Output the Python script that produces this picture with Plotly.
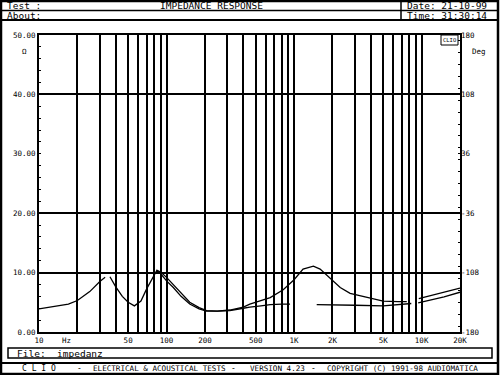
import plotly.graph_objects as go
import math

# ---------------- data ----------------
freq_a = [10, 13, 17, 20, 25, 30, 33, None, 36, 40, 45, 50, 56, 63, 70, 78, 84, 90, 100, 113,
          130, 152, 180, 206, 250, 314, 400, 450, 550, 650, 822, 1000, 1176, 1417, 1600, 1808,
          2300, 2750, 3284, 4000, 5000, 6500, 7650, None, 9500, 12000, 15000, 20000]
imp_a = [3.9, 4.3, 4.7, 5.3, 6.8, 8.5, 9.2, None, 9.3, 7.6, 6.0, 5.0, 4.4, 5.2, 7.3, 9.3, 10.4, 9.8, 8.6, 7.5,
         6.0, 4.7, 3.9, 3.5, 3.5, 3.7, 4.2, 4.7, 5.3, 5.8, 7.1, 8.8, 10.6, 11.1, 10.6, 9.5,
         7.5, 6.5, 6.1, 5.6, 5.2, 5.1, 5.1, None, 5.6, 6.2, 6.7, 7.4]

freq_b = [84, 90, 100, 113, 130, 152, 180, 206, 250, 314, 400, 450, 550, 650, 800, 930, None,
          1505, 2000, 3000, 5000, 7000, 8300, None, 9400, 12000, 15000, 20000]
imp_b = [10.4, 10.1, 9.2, 8.0, 6.5, 5.0, 4.1, 3.6, 3.5, 3.6, 4.0, 4.2, 4.4, 4.6, 4.7, 4.7, None,
         4.6, 4.6, 4.5, 4.4, 4.6, 4.8, None, 4.9, 5.4, 5.9, 6.7]

x_grid = [10, 20, 30, 40, 50, 60, 70, 80, 90, 100, 200, 300, 400, 500, 600, 700, 800, 900,
          1000, 2000, 3000, 4000, 5000, 6000, 7000, 8000, 9000, 10000, 20000]
x_labels = {10: "10", 50: "50", 100: "100", 200: "200", 500: "500", 1000: "1K",
            2000: "2K", 5000: "5K", 10000: "10K", 20000: "20K"}
y_ticks = [0, 10, 20, 30, 40, 50]
y_ticktext = ["0.00", "10.00", "20.00", "30.00", "40.00", "50.00"]
y_grid = [10, 20, 40]
deg_ticks = [-180, -108, -36, 36, 108, 180]
deg_ticktext = ["-180", "-108", "-36", "36", "108", "180"]

# ---------------- layout helpers ----------------
W, H = 500, 375
L, R, T, B = 39, 460, 35, 332
MONO = "DejaVu Sans Mono"


def px(x):
    return (x - L) / (R - L)


def py(y):
    return (B - y) / (B - T)


fig = go.Figure()
fig.add_trace(go.Scatter(x=freq_a, y=imp_a, mode="lines", line=dict(color="black", width=1.3),
                         connectgaps=False, showlegend=False))
fig.add_trace(go.Scatter(x=freq_b, y=imp_b, mode="lines", line=dict(color="black", width=1.3),
                         connectgaps=False, showlegend=False))
# invisible traces to activate extra axes
fig.add_trace(go.Scatter(x=[10], y=[0], yaxis="y2", mode="markers", marker=dict(opacity=0),
                         showlegend=False, hoverinfo="skip"))
fig.add_trace(go.Scatter(x=[10], y=[0], yaxis="y3", mode="markers", marker=dict(opacity=0),
                         showlegend=False, hoverinfo="skip"))

fig.update_layout(
    width=W, height=H,
    margin=dict(l=L, r=W - R, t=T, b=H - B),
    paper_bgcolor="white", plot_bgcolor="white",
    font=dict(family=MONO, size=7.5, color="black"),
    xaxis=dict(type="log", range=[1, math.log10(20000)],
               tickvals=x_grid, ticktext=[x_labels.get(v, "") for v in x_grid],
               showgrid=True, gridcolor="black", gridwidth=1.8,
               showline=True, linecolor="black", linewidth=2, mirror=True,
               ticks="inside", ticklen=2, tickcolor="black", zeroline=False,
               tickfont=dict(family=MONO, size=7.5)),
    yaxis=dict(range=[0, 50], tickvals=y_ticks, ticktext=y_ticktext,
               showgrid=False, zeroline=False,
               showline=True, linecolor="black", linewidth=2, mirror=True,
               ticks="inside", ticklen=2, tickcolor="black",
               minor=dict(dtick=2, ticks="inside", ticklen=2, tickcolor="black"),
               tickfont=dict(family=MONO, size=7.5)),
    yaxis2=dict(range=[-180, 180], tickvals=deg_ticks, ticktext=deg_ticktext,
                overlaying="y", side="right", showgrid=False, zeroline=False,
                ticks="inside", ticklen=2, tickcolor="black",
                minor=dict(dtick=14.4, ticks="inside", ticklen=2, tickcolor="black"),
                tickfont=dict(family=MONO, size=7.5)),
    yaxis3=dict(range=[0, 50], tickvals=y_grid, overlaying="y", showticklabels=False,
                showgrid=True, gridcolor="black", gridwidth=1.8, zeroline=False, ticks=""),
)

shapes = []


def rect(x0, y0, x1, y1, w=1.5):
    shapes.append(dict(type="rect", xref="paper", yref="paper",
                       x0=px(x0), x1=px(x1), y0=py(y0), y1=py(y1),
                       line=dict(color="black", width=w), fillcolor="rgba(0,0,0,0)", layer="above"))


def hline(x0, x1, y, w=1.5):
    shapes.append(dict(type="line", xref="paper", yref="paper",
                       x0=px(x0), x1=px(x1), y0=py(y), y1=py(y),
                       line=dict(color="black", width=w)))


def vline(x, y0, y1, w=1.5):
    shapes.append(dict(type="line", xref="paper", yref="paper",
                       x0=px(x), x1=px(x), y0=py(y0), y1=py(y1),
                       line=dict(color="black", width=w)))


rect(1, 1, 498, 374, 2.5)          # outer frame
hline(1, 498, 10.5, 1.5)           # header row separator
hline(1, 498, 20, 2)               # header bottom
vline(401, 1, 20, 1.5)             # header vertical divider
rect(8, 348, 492, 358, 1.5)        # file box
hline(1, 498, 363, 2)              # footer separator
rect(441, 35, 458, 45, 1)          # CLIO logo box
fig.update_layout(shapes=shapes)

ann = []


def text(x, y, s, size=7.5, anchor="left"):
    ann.append(dict(xref="paper", yref="paper", x=px(x), y=py(y), text=s, showarrow=False,
                    xanchor=anchor, yanchor="middle",
                    font=dict(family=MONO, size=size, color="black")))


text(5, 6, "Test :", 9.5)
text(211, 6, "IMPEDANCE RESPONSE", 9.5, "center")
text(405, 6, "Date: 21-10-99", 9.5)
text(5, 15.5, "About:", 9.5)
text(405, 15.5, "Time: 31:30:14", 9.5)
text(20, 52, "Ω", 7.5)
text(470, 52, "Deg", 7.5)
text(449.5, 40, "CLIO", 5.5, "center")
text(60, 340, "Hz", 7.5)
text(15, 353, "File:  impedanz", 9.5)
text(20, 368.5, "C L I O", 8)
text(79, 368.5, "-", 8, "center")
text(91, 368.5, "ELECTRICAL & ACOUSTICAL TESTS", 7.6)
text(233, 368.5, "-", 8, "center")
text(248, 368.5, "VERSION 4.23", 7.6)
text(313, 368.5, "-", 8, "center")
text(325, 368.5, "COPYRIGHT (C) 1991-98 AUDIOMATICA", 7.6)
fig.update_layout(annotations=ann)

fig.write_html("out.html", config={"displayModeBar": False},
               post_script="document.body.style.margin='0';document.body.style.padding='0';")
